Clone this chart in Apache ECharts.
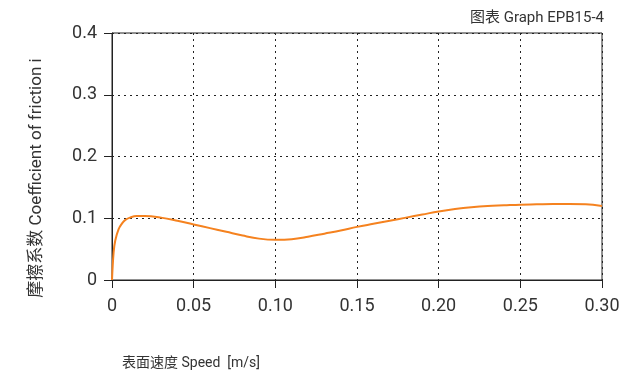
<!DOCTYPE html>
<html>
<head>
<meta charset="utf-8">
<script src="https://cdn.jsdelivr.net/npm/echarts@6/dist/echarts.min.js"></script>
<style>
  html, body { margin: 0; padding: 0; background: #fff; }
  #chart { width: 633px; height: 374px; }
</style>
</head>
<body>
<div id="chart"></div>
<script>
// speed [m/s] vs coefficient of friction
const speed = [0, 0.001, 0.002, 0.004, 0.006, 0.008, 0.011, 0.015, 0.02, 0.03, 0.04, 0.05, 0.06, 0.07, 0.08, 0.09, 0.1, 0.11, 0.12, 0.13, 0.14, 0.15, 0.16, 0.17, 0.18, 0.19, 0.2, 0.21, 0.22, 0.23, 0.24, 0.25, 0.26, 0.27, 0.28, 0.29, 0.3];
const friction = [0, 0.045, 0.064, 0.082, 0.091, 0.097, 0.101, 0.1035, 0.1035, 0.101, 0.096, 0.09, 0.084, 0.078, 0.072, 0.067, 0.065, 0.066, 0.07, 0.075, 0.08, 0.086, 0.091, 0.096, 0.101, 0.106, 0.111, 0.115, 0.118, 0.12, 0.121, 0.122, 0.1225, 0.123, 0.123, 0.1225, 0.12];
const xTicks = ['0', '0.05', '0.10', '0.15', '0.20', '0.25', '0.30'];
const yTicks = ['0', '0.1', '0.2', '0.3', '0.4'];

const chart = echarts.init(document.getElementById('chart'), null, { renderer: 'canvas' });
const font = 'Roboto, "Noto Sans CJK SC", sans-serif';
const ink = '#222';

chart.setOption({
  animation: false,
  grid: { left: 112, right: 31, top: 33, bottom: 94, show: true, borderColor: ink, borderWidth: 1 },
  graphic: [
    { type: 'text', right: 29, top: 11, style: { text: '图表 Graph EPB15-4', font: '15px ' + font, fill: '#333' } },
    { type: 'text', left: 122, top: 357, style: { text: '表面速度 Speed  [m/s]', font: '14px ' + font, fill: '#333' } },
    { type: 'text', x: 37, y: 178, rotation: Math.PI / 2,
      style: { text: '摩擦系数 Coefficient of friction i', font: '17px ' + font, fill: '#333', align: 'center', verticalAlign: 'middle' } }
  ],
  xAxis: {
    type: 'value', min: 0, max: 0.3, interval: 0.05,
    axisLine: { show: true, lineStyle: { color: ink } },
    axisTick: { show: true, length: 8, lineStyle: { color: ink } },
    axisLabel: { fontSize: 18, color: '#333', fontFamily: font, margin: 18,
      formatter: (v) => xTicks[Math.round(v / 0.05)] },
    splitLine: { show: true, lineStyle: { color: ink, type: [2, 4], width: 1 } }
  },
  yAxis: {
    type: 'value', min: 0, max: 0.4, interval: 0.1,
    axisLine: { show: true, lineStyle: { color: ink } },
    axisTick: { show: true, length: 8, lineStyle: { color: ink } },
    axisLabel: { fontSize: 18, color: '#333', fontFamily: font, margin: 15,
      formatter: (v) => yTicks[Math.round(v / 0.1)] },
    splitLine: { show: true, lineStyle: { color: ink, type: [2, 4], width: 1 } }
  },
  series: [{
    type: 'line',
    data: speed.map((x, i) => [x, friction[i]]),
    smooth: 0.4,
    showSymbol: false,
    lineStyle: { color: '#f5821f', width: 2 }
  }]
});
</script>
</body>
</html>
